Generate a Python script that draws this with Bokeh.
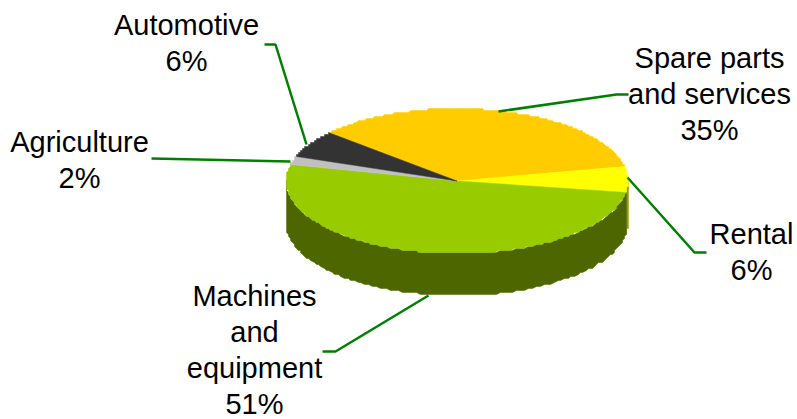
import numpy as np
from bokeh.embed import file_html
from bokeh.models import ColumnDataSource, Range1d
from bokeh.plotting import figure
from bokeh.resources import INLINE
from bokeh.core.properties import value

# Slice order runs clockwise from the upper-left boundary of the disc
categories = ["Spare parts and services", "Rental", "Machines and equipment", "Agriculture", "Automotive"]
shares = [35, 6, 51, 2, 6]
top_colors = ["#FFCC00", "#FFFF00", "#99CC00", "#C0C0C0", "#333333"]
side_colors = ["#806600", "#999900", "#4D6600", "#606060", "#1A1A1A"]

label_lines = [
    (["Spare parts", "and services", "35%"], 709, 57),
    (["Rental", "6%"], 751, 233),
    (["Machines", "and", "equipment", "51%"], 254, 295),
    (["Agriculture", "2%"], 79, 141),
    (["Automotive", "6%"], 186, 24),
]
leader_x = [[498, 616, 628], [627, 694, 706], [428, 335, 322], [290, 151], [306, 275, 264]]
leader_y = [[111, 94, 94], [177, 252, 252], [295, 351, 351], [161, 158], [144, 44, 44]]

CX, CY, RX, RY, DEPTH = 456.5, 180.5, 171.0, 72.5, 42.0
START_DEG = -48.3
LINE_GAP = 36
STEP = 2.0


def rim(t):
    return CX + RX * np.sin(t), CY - RY * np.cos(t)


def stepped(x, y):
    # Snap the rim to a coarse pixel grid to get its stair-stepped edge
    return np.round(np.asarray(x) / STEP) * STEP, np.round(np.asarray(y) / STEP) * STEP


p = figure(width=797, height=419, output_backend="svg", toolbar_location=None,
           x_range=Range1d(0, 797), y_range=Range1d(419, 0), min_border=0,
           outline_line_color=None, background_fill_color="white", border_fill_color="white")
p.xaxis.visible = False
p.yaxis.visible = False
p.grid.visible = False

edges = np.radians(START_DEG + np.cumsum([0] + shares) * 3.6)

# Side wall: only the part of each slice facing the viewer (90 to 270 degrees)
low, high = np.pi / 2, 3 * np.pi / 2
for a, b, color in zip(edges[:-1], edges[1:], side_colors):
    a2, b2 = max(a, low), min(b, high)
    if a2 >= b2:
        continue
    t = np.linspace(a2, b2, 120)
    x, y = rim(t)
    x, y = stepped(x, y)
    p.patch(np.r_[x, x[::-1]], np.r_[y, y[::-1] + DEPTH], fill_color=color, line_color=color, line_width=0.5)

# Top face of the disc
for a, b, color in zip(edges[:-1], edges[1:], top_colors):
    t = np.linspace(a, b, 160)
    x, y = rim(t)
    x, y = stepped(x, y)
    p.patch(np.r_[CX, x], np.r_[CY, y], fill_color=color, line_color=color, line_width=0.5)

p.multi_line(leader_x, leader_y, line_color="#008000", line_width=2.5)

xs, ys, texts = [], [], []
for lines, lx, ly in label_lines:
    for i, line in enumerate(lines):
        xs.append(lx)
        ys.append(ly + i * LINE_GAP)
        texts.append(line)
p.text(x="x", y="y", text="t", source=ColumnDataSource(dict(x=xs, y=ys, t=texts)),
       text_font=value("Liberation Sans"), text_font_size="29px", text_color="#000000",
       text_align="center", text_baseline="middle")

open("out.html", "w").write(file_html(p, INLINE))
